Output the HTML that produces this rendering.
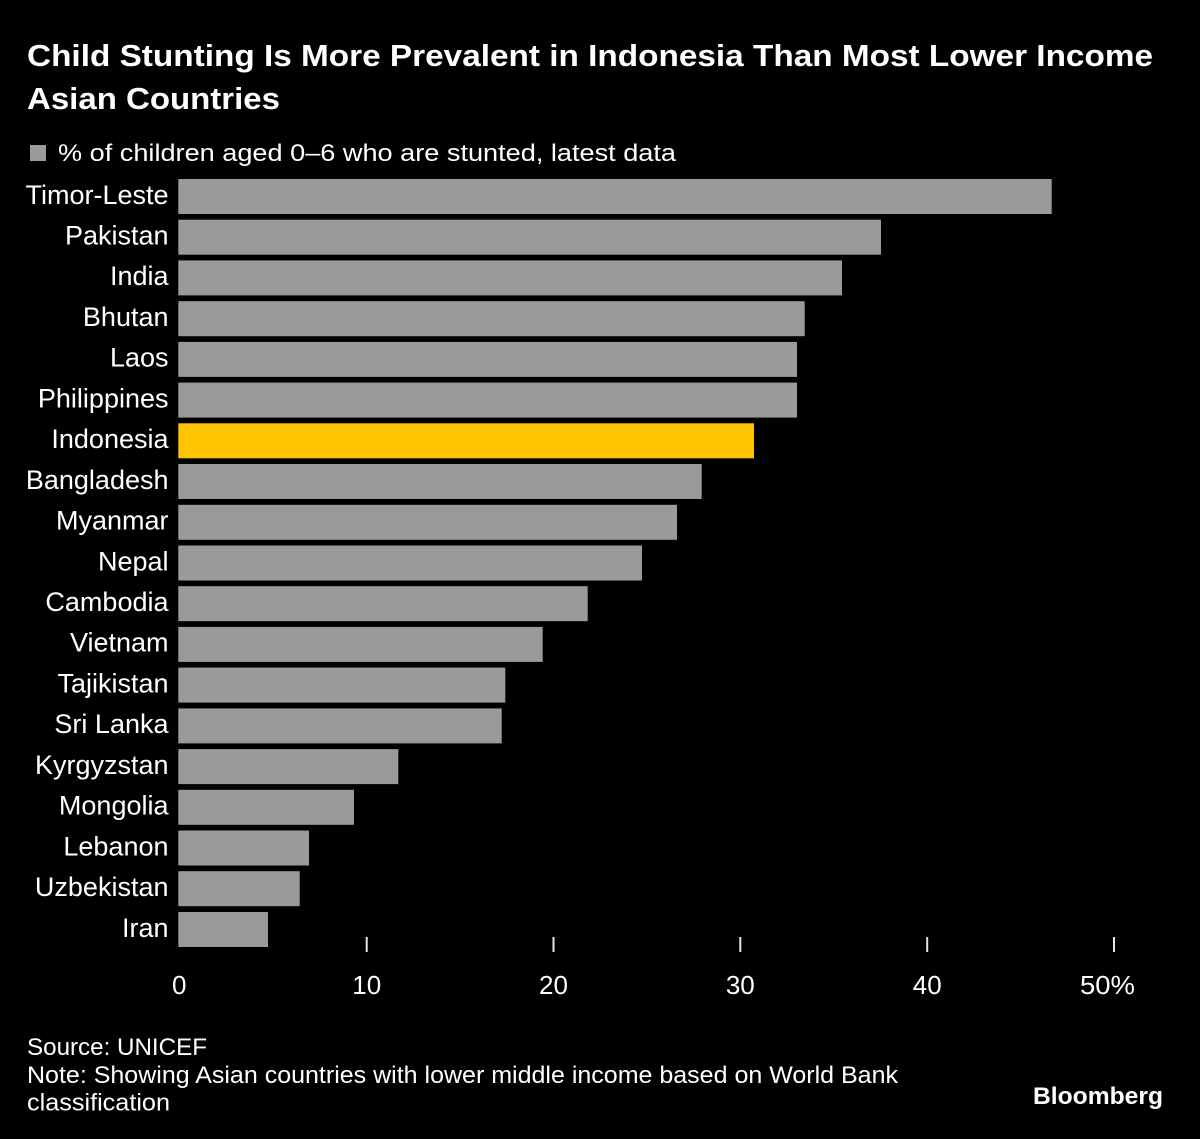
<!DOCTYPE html>
<html><head><meta charset="utf-8"><style>
html,body{margin:0;padding:0;background:#000;}
svg{display:block;}
text{font-family:"Liberation Sans",Arial,sans-serif;fill:#fff;}
</style></head><body>
<svg width="1200" height="1139" viewBox="0 0 1200 1139" xmlns="http://www.w3.org/2000/svg">
<rect width="1200" height="1139" fill="#000"/>
<text x="27" y="66" font-size="31" font-weight="bold" textLength="1126" lengthAdjust="spacingAndGlyphs">Child Stunting Is More Prevalent in Indonesia Than Most Lower Income</text>
<text x="27" y="109" font-size="31" font-weight="bold" textLength="253" lengthAdjust="spacingAndGlyphs">Asian Countries</text>
<rect x="30" y="145" width="16" height="16" fill="#9a9a9a"/>
<text x="58" y="161" font-size="24" textLength="618" lengthAdjust="spacingAndGlyphs">% of children aged 0–6 who are stunted, latest data</text>
<g fill="#9a9a9a">
<rect x="178.3" y="179" width="873.4" height="35"/>
<rect x="178.3" y="219.7" width="702.7" height="35"/>
<rect x="178.3" y="260.4" width="663.7" height="35"/>
<rect x="178.3" y="301.2" width="626.4" height="35"/>
<rect x="178.3" y="341.9" width="618.7" height="35"/>
<rect x="178.3" y="382.6" width="618.7" height="35"/>
<rect x="178.3" y="423.3" width="575.7" height="35" fill="#fec400"/>
<rect x="178.3" y="464" width="523.4" height="35"/>
<rect x="178.3" y="504.8" width="498.7" height="35"/>
<rect x="178.3" y="545.5" width="463.7" height="35"/>
<rect x="178.3" y="586.2" width="409.4" height="35"/>
<rect x="178.3" y="626.9" width="364.4" height="35"/>
<rect x="178.3" y="667.6" width="327" height="35"/>
<rect x="178.3" y="708.4" width="323.4" height="35"/>
<rect x="178.3" y="749.1" width="220" height="35"/>
<rect x="178.3" y="789.8" width="175.7" height="35"/>
<rect x="178.3" y="830.5" width="130.7" height="35"/>
<rect x="178.3" y="871.2" width="121.4" height="35"/>
<rect x="178.3" y="912" width="89.7" height="35"/>
</g>
<g font-size="27" text-anchor="end">
<text x="168.5" y="203.8">Timor-Leste</text>
<text x="168.5" y="244.5">Pakistan</text>
<text x="168.5" y="285.2">India</text>
<text x="168.5" y="326">Bhutan</text>
<text x="168.5" y="366.7">Laos</text>
<text x="168.5" y="407.4">Philippines</text>
<text x="168.5" y="448.1">Indonesia</text>
<text x="168.5" y="488.8">Bangladesh</text>
<text x="168.5" y="529.6">Myanmar</text>
<text x="168.5" y="570.3">Nepal</text>
<text x="168.5" y="611">Cambodia</text>
<text x="168.5" y="651.7">Vietnam</text>
<text x="168.5" y="692.4">Tajikistan</text>
<text x="168.5" y="733.2">Sri Lanka</text>
<text x="168.5" y="773.9">Kyrgyzstan</text>
<text x="168.5" y="814.6">Mongolia</text>
<text x="168.5" y="855.3">Lebanon</text>
<text x="168.5" y="896">Uzbekistan</text>
<text x="168.5" y="936.8">Iran</text>
</g>
<g stroke="#e6e6e6" stroke-width="2">
<line x1="366.7" y1="937" x2="366.7" y2="952"/>
<line x1="553.5" y1="937" x2="553.5" y2="952"/>
<line x1="740.3" y1="937" x2="740.3" y2="952"/>
<line x1="927.2" y1="937" x2="927.2" y2="952"/>
<line x1="1114" y1="937" x2="1114" y2="952"/>
</g>
<g font-size="26" text-anchor="middle">
<text x="179.2" y="994">0</text>
<text x="366.7" y="994">10</text>
<text x="553.5" y="994">20</text>
<text x="740.3" y="994">30</text>
<text x="927.2" y="994">40</text>
</g>
<text x="1080" y="994" font-size="26" textLength="55" lengthAdjust="spacingAndGlyphs">50%</text>
<text x="27" y="1055" font-size="24" textLength="180" lengthAdjust="spacingAndGlyphs">Source: UNICEF</text>
<text x="27" y="1083" font-size="24" textLength="871" lengthAdjust="spacingAndGlyphs">Note: Showing Asian countries with lower middle income based on World Bank</text>
<text x="27" y="1110.5" font-size="24" textLength="143" lengthAdjust="spacingAndGlyphs">classification</text>
<text x="1033" y="1104" font-size="24" font-weight="bold" textLength="130" lengthAdjust="spacingAndGlyphs">Bloomberg</text>
</svg>
</body></html>
